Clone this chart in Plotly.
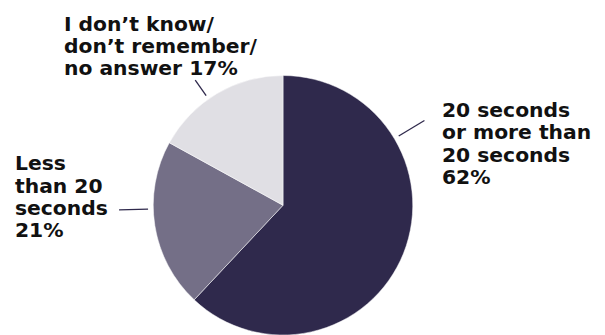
import math
import plotly.graph_objects as go

# ---- data ----
categories = ["20 seconds or more than 20 seconds", "Less than 20 seconds",
              "I don't know/ don't remember/ no answer"]
values = [62, 21, 17]
colors = ["#2f294c", "#746f87", "#e0dfe4"]
label_lines = [
    ["20 seconds", "or more than", "20 seconds", "62%"],
    ["Less", "than 20", "seconds", "21%"],
    ["I don\u2019t know/", "don\u2019t remember/", "no answer 17%"],
]

W, H = 605, 335
CX, CY, R = 283, 205.5, 130

fig = go.Figure(go.Pie(
    labels=categories, values=values, sort=False, direction="clockwise",
    rotation=0, marker=dict(colors=colors, line=dict(color="white", width=0.5)),
    textinfo="none", hoverinfo="label+percent", showlegend=False,
    domain=dict(x=[(CX - R) / W, (CX + R) / W], y=[0, 1 - (CY - R) / H]),
))

# label placement (pixels): left x, first baseline, line spacing
label_pos = [(442, 117.3, 22.3), (15, 170.7, 22.3), (64, 30.8, 22.3)]
# leader lines: angle (deg clockwise from top), inner radius, outer radius
leaders = [(59, 135, 165), (-35, 134, 153), (-91.5, 135, 164)]

annotations = []
for lines, (lx, b0, sp) in zip(label_lines, label_pos):
    for i, t in enumerate(lines):
        base = b0 + i * sp
        annotations.append(dict(
            text=t, x=lx / W, y=1 - (base - 7.3) / H, xref="paper", yref="paper",
            xanchor="left", yanchor="middle", showarrow=False,
            font=dict(family="DejaVu Sans", size=20.3, color="#111111", weight="bold"),
            borderpad=0, borderwidth=0))

shapes = []
for ang, r1, r2 in leaders:
    a = math.radians(ang)
    x1, y1 = CX + r1 * math.sin(a), CY - r1 * math.cos(a)
    x2, y2 = CX + r2 * math.sin(a), CY - r2 * math.cos(a)
    shapes.append(dict(type="line", xref="paper", yref="paper",
                       x0=x1 / W, y0=1 - y1 / H, x1=x2 / W, y1=1 - y2 / H,
                       line=dict(color="#2f294c", width=1.3)))

fig.update_layout(width=W, height=H, margin=dict(l=0, r=0, t=0, b=0),
                  paper_bgcolor="white", plot_bgcolor="white",
                  annotations=annotations, shapes=shapes)
fig.write_html("out.html")
